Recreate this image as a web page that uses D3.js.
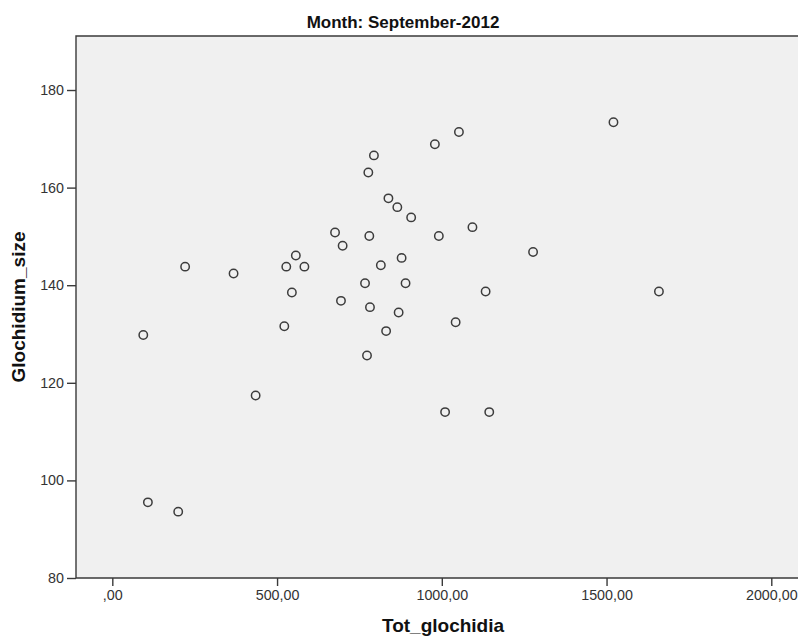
<!DOCTYPE html>
<html>
<head>
<meta charset="utf-8">
<script src="https://cdn.jsdelivr.net/npm/d3@7"></script>
<style>
  html, body { margin: 0; padding: 0; background: #ffffff; overflow: hidden; }
  svg { display: block; font-family: "Liberation Sans", Arial, sans-serif; }
</style>
</head>
<body>
<svg id="chart" width="798" height="639"></svg>
<script>
// ---- Data ----
const totGlochidia = [94, 108, 200, 221, 368, 435, 522, 528, 545, 557, 583, 676, 699, 694, 767, 773, 777, 780, 782, 794, 815, 831, 838, 865, 869, 878, 890, 907, 979, 991, 1010, 1042, 1052, 1093, 1133, 1144, 1277, 1521, 1659];
const glochidiumSize = [129.8, 95.5, 93.6, 143.8, 142.4, 117.4, 131.6, 143.8, 138.5, 146.1, 143.8, 150.8, 148.1, 136.8, 140.4, 125.6, 163.1, 150.1, 135.5, 166.6, 144.1, 130.6, 157.8, 156.0, 134.4, 145.6, 140.4, 153.9, 168.9, 150.1, 114.0, 132.4, 171.4, 151.9, 138.7, 114.0, 146.8, 173.4, 138.7];
const xTickValues = [0, 500, 1000, 1500, 2000];
const yTickValues = [80, 100, 120, 140, 160, 180];
const chartTitle = "Month: September-2012";
const xTitle = "Tot_glochidia";
const yTitle = "Glochidium_size";

// ---- Layout ----
const W = 798, H = 639;
const plot = { left: 76, top: 36, right: 805, bottom: 578 };

const svg = d3.select("#chart");

const x = d3.scaleLinear().domain([-110.2, 2102.3]).range([plot.left, plot.right]);
const y = d3.scaleLinear().domain([80, 191.07]).range([plot.bottom, plot.top]);

// background
svg.append("rect")
  .attr("x", plot.left).attr("y", plot.top)
  .attr("width", plot.right - plot.left).attr("height", plot.bottom - plot.top)
  .attr("fill", "#f0f0f0");

// frame (top, left, bottom)
const frameColor = "#3a3a3a";
svg.append("path")
  .attr("d", `M${plot.right},${plot.top}H${plot.left}V${plot.bottom}H${plot.right}`)
  .attr("fill", "none").attr("stroke", frameColor).attr("stroke-width", 1.4);

// number formatting: ",00", "500,00"
const loc = d3.formatLocale({ decimal: ",", thousands: "", grouping: [3], currency: ["", ""] });
const f2 = loc.format(".2f");
const fmtX = v => { const s = f2(v); return s.startsWith("0,") ? s.slice(1) : s; };

// axes
const xAxis = d3.axisBottom(x).tickValues(xTickValues).tickFormat(fmtX).tickSize(8).tickSizeOuter(0).tickPadding(4);
const gx = svg.append("g").attr("transform", `translate(0,${plot.bottom})`).call(xAxis);
gx.select(".domain").remove();
gx.selectAll(".tick line").attr("stroke", frameColor).attr("stroke-width", 1.4);
gx.selectAll(".tick text").attr("fill", "#333").attr("font-size", 14.3).attr("font-family", "Liberation Sans, Arial, sans-serif");

const yAxis = d3.axisLeft(y).tickValues(yTickValues).tickFormat(d3.format("d")).tickSize(9).tickSizeOuter(0).tickPadding(3);
const gy = svg.append("g").attr("transform", `translate(${plot.left},0)`).call(yAxis);
gy.select(".domain").remove();
gy.selectAll(".tick line").attr("stroke", frameColor).attr("stroke-width", 1.4);
gy.selectAll(".tick text").attr("fill", "#333").attr("font-size", 14.3).attr("font-family", "Liberation Sans, Arial, sans-serif");

// points
const pts = totGlochidia.map((v, i) => ({ x: v, y: glochidiumSize[i] }));
svg.append("g").selectAll("circle").data(pts).join("circle")
  .attr("cx", d => x(d.x)).attr("cy", d => y(d.y)).attr("r", 4.2)
  .attr("fill", "none").attr("stroke", "#3c3c3c").attr("stroke-width", 1.5);

// titles
svg.append("text")
  .attr("x", 403).attr("y", 28).attr("text-anchor", "middle")
  .attr("font-size", 17).attr("font-weight", "bold").attr("fill", "#111")
  .text(chartTitle);

svg.append("text")
  .attr("x", 443).attr("y", 632).attr("text-anchor", "middle")
  .attr("font-size", 19).attr("font-weight", "bold").attr("fill", "#111")
  .text(xTitle);

svg.append("text")
  .attr("transform", `translate(25,307) rotate(-90)`).attr("text-anchor", "middle")
  .attr("font-size", 19).attr("font-weight", "bold").attr("fill", "#111")
  .text(yTitle);
</script>
</body>
</html>
